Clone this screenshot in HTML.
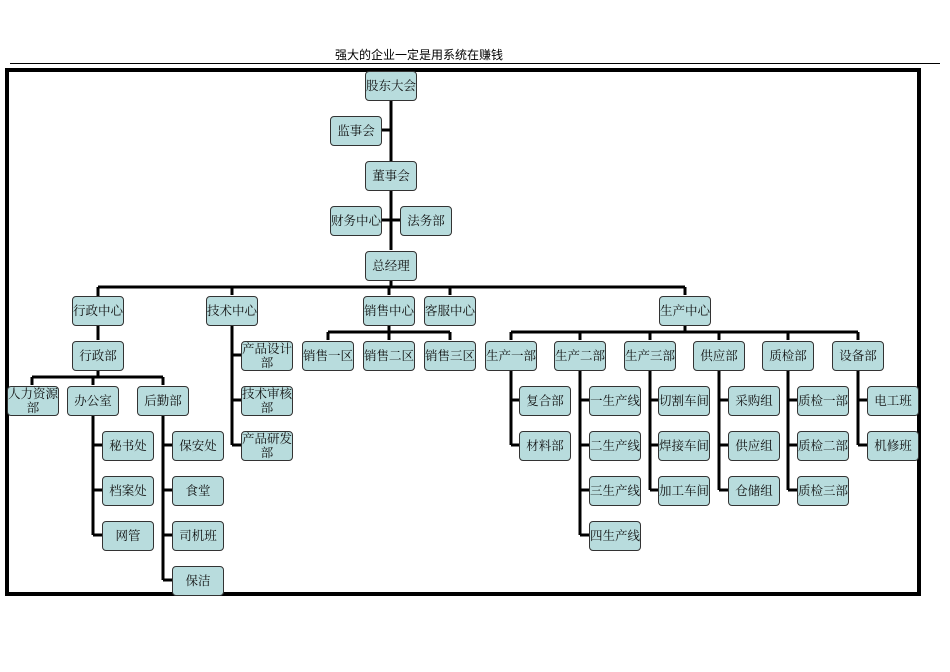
<!DOCTYPE html>
<html><head><meta charset="utf-8"><style>
body{margin:0;width:950px;height:672px;background:#fff;position:relative;overflow:hidden;font-family:"Liberation Serif","Noto Serif CJK SC","Noto Sans CJK SC",serif;}
.b{position:absolute;width:50px;height:28px;background:#b8dcdd;border:1px solid #333;border-radius:4px;font-size:12.5px;line-height:14px;display:flex;align-items:center;justify-content:center;text-align:center;color:#111;box-sizing:content-box;}
svg{position:absolute;left:0;top:0}
.t{position:absolute;left:335px;top:46px;font-size:12px;font-family:"Liberation Sans","Noto Sans CJK SC",sans-serif;}
</style></head><body>
<div class="t">强大的企业一定是用系统在赚钱</div>
<svg width="950" height="672">
<line x1="10" y1="63.5" x2="940" y2="63.5" stroke="#000" stroke-width="1"/>
<rect x="7" y="70" width="912" height="524" fill="none" stroke="#000" stroke-width="4"/>
<g stroke="#000" stroke-width="3" fill="none">
<line x1="391" y1="100" x2="391" y2="250"/>
<line x1="382" y1="130" x2="391" y2="130"/>
<line x1="382" y1="220" x2="400" y2="220"/>
<line x1="391" y1="280" x2="391" y2="287"/>
<line x1="98" y1="287" x2="685" y2="287"/>
<line x1="98" y1="287" x2="98" y2="340"/>
<line x1="232" y1="287" x2="232" y2="295"/>
<line x1="389" y1="287" x2="389" y2="295"/>
<line x1="450" y1="287" x2="450" y2="295"/>
<line x1="685" y1="287" x2="685" y2="295"/>
<line x1="389" y1="325" x2="389" y2="340"/>
<line x1="328" y1="332" x2="450" y2="332"/>
<line x1="328" y1="332" x2="328" y2="340"/>
<line x1="450" y1="332" x2="450" y2="340"/>
<line x1="685" y1="325" x2="685" y2="332"/>
<line x1="511" y1="332" x2="858" y2="332"/>
<line x1="511" y1="332" x2="511" y2="340"/><line x1="580" y1="332" x2="580" y2="340"/><line x1="650" y1="332" x2="650" y2="340"/><line x1="719" y1="332" x2="719" y2="340"/><line x1="788" y1="332" x2="788" y2="340"/><line x1="858" y1="332" x2="858" y2="340"/>
<!-- 生产 children -->
<path d="M511 370V445M511 400H519M511 445H519"/>
<path d="M580 370V535M580 400H589M580 445H589M580 490H589M580 535H589"/>
<path d="M650 370V490M650 400H658M650 445H658M650 490H658"/>
<path d="M719 370V490M719 400H728M719 445H728M719 490H728"/>
<path d="M788 370V490M788 400H797M788 445H797M788 490H797"/>
<path d="M858 370V445M858 400H867M858 445H867"/>
<!-- 技术 -->
<path d="M232 325V445M232 355H241M232 400H241M232 445H241"/>
<!-- 行政 -->
<path d="M98 370V377M32 377H163M32 377V385M93 377V385M163 377V385"/>
<path d="M93 415V535M93 445H102M93 490H102M93 535H102"/>
<path d="M163 415V580M163 445H172M163 490H172M163 535H172M163 580H172"/>
</g>
</svg>
<div class="b" style="left:365px;top:71px">股东大会</div>
<div class="b" style="left:330px;top:116px">监事会</div>
<div class="b" style="left:365px;top:161px">董事会</div>
<div class="b" style="left:330px;top:206px">财务中心</div>
<div class="b" style="left:400px;top:206px">法务部</div>
<div class="b" style="left:365px;top:251px">总经理</div>
<div class="b" style="left:72px;top:296px">行政中心</div>
<div class="b" style="left:206px;top:296px">技术中心</div>
<div class="b" style="left:363px;top:296px">销售中心</div>
<div class="b" style="left:424px;top:296px">客服中心</div>
<div class="b" style="left:659px;top:296px">生产中心</div>
<div class="b" style="left:72px;top:341px">行政部</div>
<div class="b" style="left:302px;top:341px">销售一区</div>
<div class="b" style="left:363px;top:341px">销售二区</div>
<div class="b" style="left:424px;top:341px">销售三区</div>
<div class="b" style="left:485px;top:341px">生产一部</div>
<div class="b" style="left:554px;top:341px">生产二部</div>
<div class="b" style="left:624px;top:341px">生产三部</div>
<div class="b" style="left:693px;top:341px">供应部</div>
<div class="b" style="left:762px;top:341px">质检部</div>
<div class="b" style="left:832px;top:341px">设备部</div>
<div class="b" style="left:241px;top:341px">产品设计部</div>
<div class="b" style="left:241px;top:386px">技术审核部</div>
<div class="b" style="left:241px;top:431px">产品研发部</div>
<div class="b" style="left:7px;top:386px">人力资源部</div>
<div class="b" style="left:67px;top:386px">办公室</div>
<div class="b" style="left:137px;top:386px">后勤部</div>
<div class="b" style="left:102px;top:431px">秘书处</div>
<div class="b" style="left:102px;top:476px">档案处</div>
<div class="b" style="left:102px;top:521px">网管</div>
<div class="b" style="left:172px;top:431px">保安处</div>
<div class="b" style="left:172px;top:476px">食堂</div>
<div class="b" style="left:172px;top:521px">司机班</div>
<div class="b" style="left:172px;top:566px">保洁</div>
<div class="b" style="left:519px;top:386px">复合部</div>
<div class="b" style="left:519px;top:431px">材料部</div>
<div class="b" style="left:589px;top:386px">一生产线</div>
<div class="b" style="left:589px;top:431px">二生产线</div>
<div class="b" style="left:589px;top:476px">三生产线</div>
<div class="b" style="left:589px;top:521px">四生产线</div>
<div class="b" style="left:658px;top:386px">切割车间</div>
<div class="b" style="left:658px;top:431px">焊接车间</div>
<div class="b" style="left:658px;top:476px">加工车间</div>
<div class="b" style="left:728px;top:386px">采购组</div>
<div class="b" style="left:728px;top:431px">供应组</div>
<div class="b" style="left:728px;top:476px">仓储组</div>
<div class="b" style="left:797px;top:386px">质检一部</div>
<div class="b" style="left:797px;top:431px">质检二部</div>
<div class="b" style="left:797px;top:476px">质检三部</div>
<div class="b" style="left:867px;top:386px">电工班</div>
<div class="b" style="left:867px;top:431px">机修班</div>
</body></html>
